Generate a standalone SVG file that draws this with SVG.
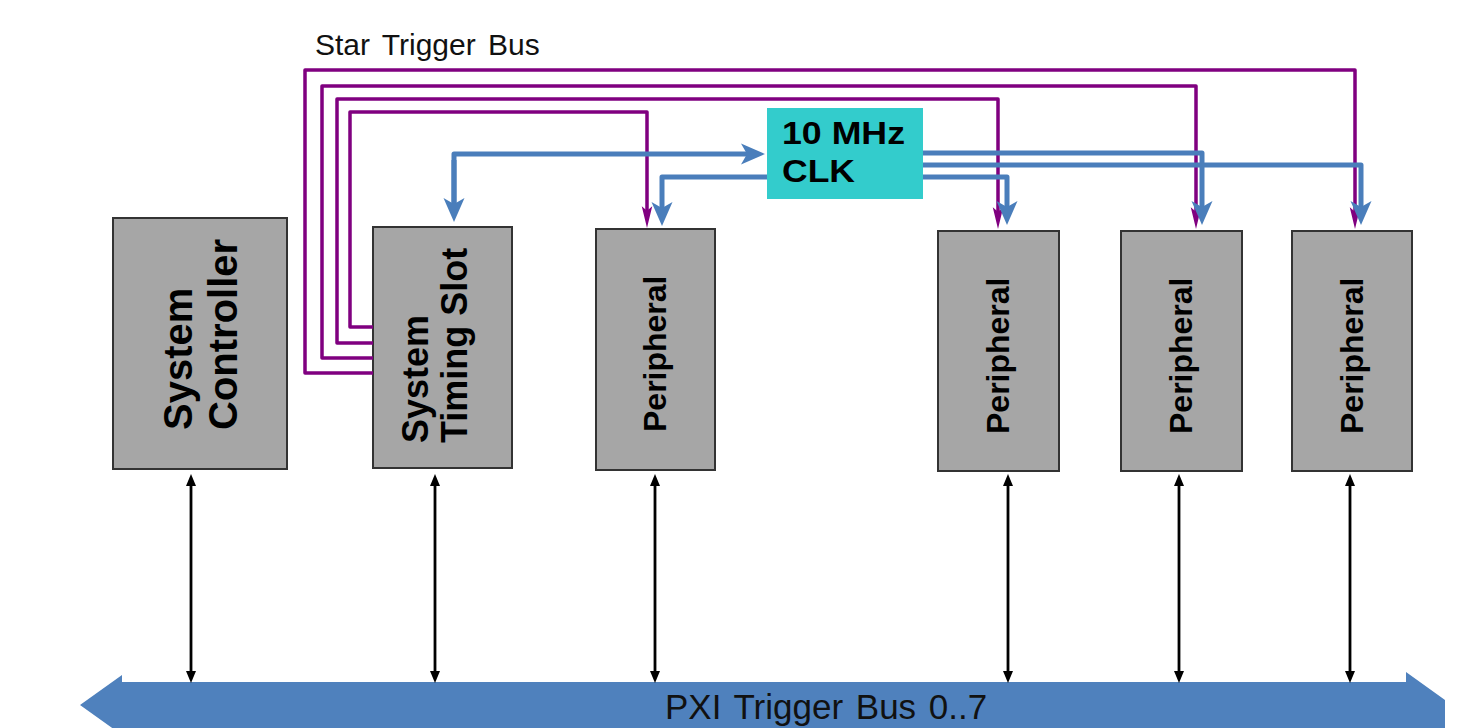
<svg xmlns="http://www.w3.org/2000/svg" width="1462" height="728" viewBox="0 0 1462 728">
<style>
.box{fill:#A6A6A6;stroke:#333;stroke-width:2}
.lbl{font-family:"Liberation Sans",Arial,sans-serif;font-weight:bold;fill:#000}
.txt{font-family:"Liberation Sans",Arial,sans-serif;fill:#111}
.pur{fill:none;stroke:#800080;stroke-width:3.5;stroke-linejoin:round;marker-end:url(#ap)}
.blu{fill:none;stroke:#4A7EBB;stroke-width:5;stroke-linejoin:round;marker-end:url(#abl)}
.blk{fill:none;stroke:#000;stroke-width:2.8;marker-start:url(#ak);marker-end:url(#ak)}
</style>
<defs>
<marker id="ak" markerUnits="userSpaceOnUse" markerWidth="16" markerHeight="14" viewBox="-2 -7 14 14" refX="0" refY="0" orient="auto-start-reverse">
<path d="M11,0 L-1,-5 L-1,5 Z" fill="#000"/>
</marker>
<marker id="ap" markerUnits="userSpaceOnUse" markerWidth="24" markerHeight="14" viewBox="-9 -6 22 12" refX="0" refY="0" orient="auto">
<path d="M12,0 L-8,-4.8 L-4,0 L-8,4.8 Z" fill="#800080"/>
</marker>
<marker id="abl" markerUnits="userSpaceOnUse" markerWidth="30" markerHeight="26" viewBox="-11 -13 26 26" refX="0" refY="0" orient="auto">
<path d="M14,0 L-10,-10.5 L-4,0 L-10,10.5 Z" fill="#4A7EBB"/>
</marker>
</defs>

<g id="bus">
<polygon points="80,705 122,675 122,682 1406,682 1406,672 1445,700 1445,740 122,740 122,735" fill="#4F81BD"/>
<text class="txt" x="665" y="719" font-size="35" word-spacing="3">PXI Trigger Bus 0..7</text>
</g>

<g id="star-label">
<text class="txt" x="315" y="55" font-size="30" word-spacing="4">Star Trigger Bus</text>
</g>

<g id="system-controller">
<rect class="box" x="113" y="218" width="174" height="251"/>
<text class="lbl" font-size="40" transform="translate(192,430) rotate(-90)">System</text>
<text class="lbl" font-size="40" transform="translate(237,430) rotate(-90)">Controller</text>
</g>

<g id="system-timing-slot">
<rect class="box" x="373" y="227" width="139" height="241"/>
<text class="lbl" font-size="36" transform="translate(428,443) rotate(-90)">System</text>
<text class="lbl" font-size="36" transform="translate(467,443) rotate(-90)">Timing Slot</text>
</g>

<g id="peripheral-1">
<rect class="box" x="596" y="229" width="119" height="241"/>
<text class="lbl" font-size="32" transform="translate(666,432) rotate(-90)">Peripheral</text>
</g>

<g id="peripheral-2">
<rect class="box" x="938" y="231" width="121" height="240"/>
<text class="lbl" font-size="32" transform="translate(1009,434) rotate(-90)">Peripheral</text>
</g>

<g id="peripheral-3">
<rect class="box" x="1121" y="231" width="121" height="240"/>
<text class="lbl" font-size="32" transform="translate(1192,434) rotate(-90)">Peripheral</text>
</g>

<g id="peripheral-4">
<rect class="box" x="1292" y="231" width="120" height="240"/>
<text class="lbl" font-size="32" transform="translate(1363,434) rotate(-90)">Peripheral</text>
</g>

<g id="clk">
<rect x="767" y="108" width="156" height="91" fill="#33CCCC"/>
<text class="lbl" x="782" y="144" font-size="32" textLength="123" lengthAdjust="spacingAndGlyphs">10 MHz</text>
<text class="lbl" x="782" y="182" font-size="32" textLength="73" lengthAdjust="spacingAndGlyphs">CLK</text>
</g>

<g id="connectors">
<path class="pur" d="M373,373 H305 V70 H1355 V216"/>
<path class="pur" d="M373,358 H322 V86 H1196 V216"/>
<path class="pur" d="M373,343 H337 V99 H998 V216"/>
<path class="pur" d="M373,327 H350 V112 H647 V215"/>

<path class="blu" d="M454,208 V154 H751"/>
<path class="blu" d="M454,160 V208"/>
<path class="blu" d="M767,177 H662 V212"/>
<path class="blu" d="M923,153 H1202 V211"/>
<path class="blu" d="M923,165 H1361 V211"/>
<path class="blu" d="M923,177 H1007 V211"/>

<line class="blk" x1="191" y1="485" x2="191" y2="672"/>
<line class="blk" x1="435" y1="485" x2="435" y2="672"/>
<line class="blk" x1="655" y1="485" x2="655" y2="672"/>
<line class="blk" x1="1008" y1="485" x2="1008" y2="672"/>
<line class="blk" x1="1179" y1="485" x2="1179" y2="672"/>
<line class="blk" x1="1350" y1="485" x2="1350" y2="672"/>
</g>
</svg>
